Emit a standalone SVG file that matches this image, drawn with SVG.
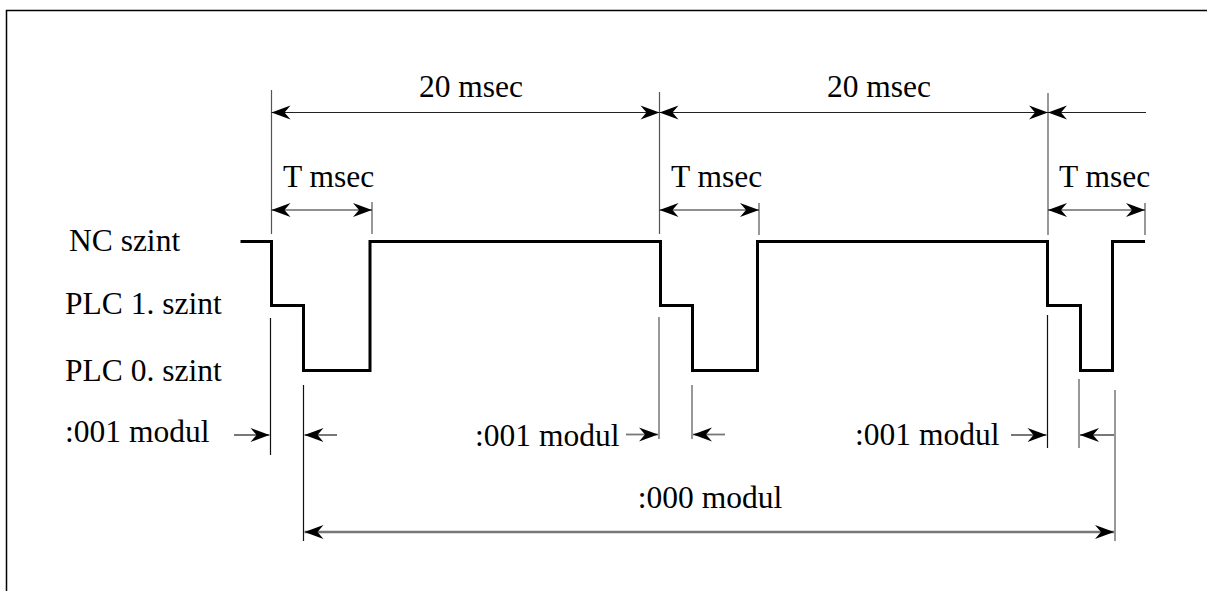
<svg xmlns="http://www.w3.org/2000/svg" width="1207" height="591" viewBox="0 0 1207 591">
<style>
.lbl{font-family:"Liberation Serif","Times New Roman",serif;font-size:31.5px;fill:#000}
.wave{fill:none;stroke:#000;stroke-width:3;stroke-linejoin:miter}
.ext{stroke:#555;stroke-width:1.2;fill:none}
.extk{stroke:#111;stroke-width:1.2;fill:none}
.dim{stroke:#222;stroke-width:1.2;fill:none}
.tail{stroke:#777;stroke-width:1.8;fill:none}
.big{stroke:#777;stroke-width:2.5;fill:none}
</style>
<defs>
<marker id="ah" markerUnits="userSpaceOnUse" markerWidth="22" markerHeight="18" viewBox="-21 -9 22 18" refX="0" refY="0" orient="auto-start-reverse">
<path d="M0,0 L-19,-7 L-13,0 L-19,7 Z" fill="#000"/>
</marker>
</defs>
<rect width="1207" height="591" fill="#fff"/>
<g id="frame">
<path d="M6.5,591 V10.5 H1207" fill="none" stroke="#000" stroke-width="1.5"/>
</g>
<g id="labels">
<text class="lbl" x="69" y="251">NC szint</text>
<text class="lbl" x="65" y="314">PLC 1. szint</text>
<text class="lbl" x="65" y="381">PLC 0. szint</text>
</g>
<g id="waveform">
<path class="wave" d="M240.5,241.5 H271.5 V305.5 H303.5 V370.5 H370 V241.5 H660.5 V305.5 H692.5 V370.5 H757.5 V241.5 H1047.5 V305.5 H1080.5 V370.5 H1112.5 V241.5 H1145"/>
</g>
<g id="connectors">
<path class="ext" d="M271.5,90 V234 M372,202 V234 M659.5,92 V234 M759,203 V235 M1048,93 V235 M1145,203 V235"/>
<path class="extk" d="M270.5,318 V455 M303.5,385 V541 M1047.5,315 V448"/>
<path class="ext" d="M659,317 V439 M692,385 V439 M1079,379 V448 M1115,390 V541"/>
<line class="dim" x1="271.5" y1="112.5" x2="659.5" y2="112.5" marker-start="url(#ah)" marker-end="url(#ah)"/>
<line class="dim" x1="659.5" y1="112.5" x2="1048" y2="112.5" marker-start="url(#ah)" marker-end="url(#ah)"/>
<line class="dim" x1="1048" y1="112.5" x2="1146" y2="112.5" marker-start="url(#ah)"/>
<line class="dim" x1="271.5" y1="210" x2="372" y2="210" marker-start="url(#ah)" marker-end="url(#ah)"/>
<line class="dim" x1="659.5" y1="210" x2="759" y2="210" marker-start="url(#ah)" marker-end="url(#ah)"/>
<line class="dim" x1="1048" y1="210" x2="1145" y2="210" marker-start="url(#ah)" marker-end="url(#ah)"/>
<line class="tail" x1="234" y1="435" x2="269.5" y2="435" marker-end="url(#ah)"/>
<line class="tail" x1="337" y1="435" x2="304.5" y2="435" marker-end="url(#ah)"/>
<line class="tail" x1="626" y1="434.5" x2="658" y2="434.5" marker-end="url(#ah)"/>
<line class="tail" x1="725" y1="434.5" x2="693" y2="434.5" marker-end="url(#ah)"/>
<line class="tail" x1="1011" y1="435" x2="1046.5" y2="435" marker-end="url(#ah)"/>
<line class="tail" x1="1114" y1="435" x2="1080" y2="435" marker-end="url(#ah)"/>
<line class="big" x1="304.5" y1="532" x2="1114" y2="532" marker-start="url(#ah)" marker-end="url(#ah)"/>
</g>
<g id="dimtexts">
<text class="lbl" x="471" y="97" text-anchor="middle">20 msec</text>
<text class="lbl" x="879" y="97" text-anchor="middle">20 msec</text>
<text class="lbl" x="283" y="187">T msec</text>
<text class="lbl" x="671" y="187">T msec</text>
<text class="lbl" x="1059" y="187">T msec</text>
<text class="lbl" x="65" y="442">:001 modul</text>
<text class="lbl" x="475" y="446">:001 modul</text>
<text class="lbl" x="855" y="445">:001 modul</text>
<text class="lbl" x="710" y="508" text-anchor="middle">:000 modul</text>
</g>
</svg>
